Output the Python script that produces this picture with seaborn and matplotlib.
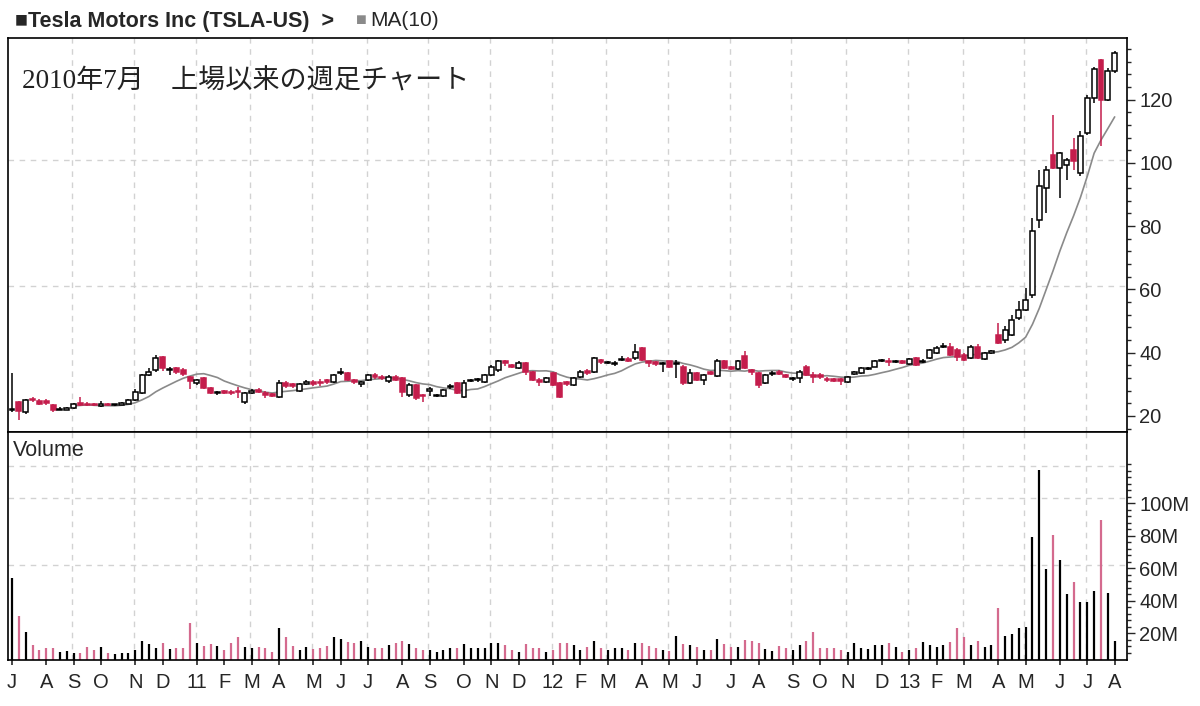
import numpy as np
import pandas as pd
import matplotlib
matplotlib.use("Agg")
import matplotlib.pyplot as plt
import seaborn as sns
from matplotlib.ticker import MultipleLocator, FixedLocator

# weekly TSLA candles, Jul 2010 - Aug 2013
opens = [21.7, 24.5, 21.2, 25.3, 24.8, 24.8, 23.5, 21.9, 22.0, 22.5,
         24.0, 23.9, 23.8, 23.2, 23.8, 23.4, 23.5, 23.8, 25.0, 27.3,
         33.0, 34.5, 38.6, 34.4, 35.0, 34.6, 32.3, 30.3, 32.0, 28.9,
         27.2, 27.8, 27.7, 27.9, 24.4, 27.3, 28.3, 27.2, 26.9, 26.0,
         30.3, 30.0, 27.9, 30.2, 30.8, 30.8, 31.3, 30.7, 33.5, 33.6,
         31.3, 30.1, 31.4, 32.9, 32.4, 31.0, 32.4, 32.0, 26.6, 29.8,
         26.7, 27.9, 26.2, 26.2, 29.0, 30.3, 26.1, 31.1, 31.2, 30.8,
         33.0, 34.5, 37.2, 36.0, 35.1, 36.7, 34.0, 31.2, 30.8, 33.5,
         30.3, 30.6, 29.8, 32.4, 34.3, 34.0, 37.6, 36.6, 36.5, 37.6,
         38.1, 38.2, 41.4, 37.2, 37.0, 36.4, 37.2, 36.4, 35.6, 30.3,
         33.5, 31.4, 33.9, 32.6, 37.2, 35.4, 34.8, 39.0, 34.4, 33.5,
         30.5, 33.2, 34.0, 33.0, 31.6, 31.9, 35.6, 33.0, 33.0, 31.8,
         31.7, 31.6, 30.8, 33.4, 33.7, 34.9, 35.6, 37.3, 37.5, 36.9,
         37.2, 36.4, 38.2, 36.9, 38.2, 40.0, 41.8, 41.9, 40.9, 39.3,
         38.2, 41.9, 37.9, 40.0, 45.6, 44.0, 45.6, 51.0, 53.5, 58.3,
         82.0, 92.1, 102.5, 98.4, 99.3, 104.1, 96.8, 109.5, 120.5, 132.5,
         120.0, 129.1]
highs = [33.6, 24.8, 25.3, 26.0, 25.2, 25.4, 23.8, 22.8, 22.9, 24.2,
         26.0, 24.5, 24.2, 24.6, 24.1, 23.9, 24.3, 25.3, 28.4, 33.3,
         35.0, 39.3, 39.0, 35.6, 35.5, 35.0, 32.5, 31.8, 32.3, 29.2,
         27.9, 28.3, 28.3, 29.0, 27.5, 28.5, 28.8, 27.8, 27.3, 31.5,
         31.0, 30.5, 30.3, 31.4, 31.2, 31.8, 31.8, 33.3, 35.2, 34.0,
         31.8, 31.0, 33.4, 33.6, 32.9, 32.8, 32.8, 32.3, 30.3, 30.2,
         26.9, 29.2, 27.0, 28.4, 30.0, 30.8, 31.3, 31.8, 31.9, 33.4,
         36.0, 37.8, 37.8, 36.4, 37.2, 37.0, 34.3, 32.0, 32.3, 33.9,
         30.6, 31.0, 32.3, 34.4, 34.8, 38.6, 38.0, 37.5, 37.5, 39.0,
         38.5, 42.8, 41.8, 37.5, 37.3, 37.0, 37.5, 37.7, 36.0, 34.8,
         33.9, 33.3, 34.3, 38.0, 37.6, 35.8, 37.8, 40.5, 34.8, 33.8,
         33.3, 34.2, 34.5, 33.4, 32.3, 34.4, 36.0, 34.0, 33.5, 32.2,
         32.0, 31.9, 32.6, 34.1, 35.4, 35.6, 37.6, 38.0, 38.3, 37.8,
         37.6, 38.3, 38.6, 38.0, 41.3, 42.0, 43.0, 43.0, 41.5, 39.8,
         42.3, 42.8, 40.1, 40.8, 49.4, 48.5, 51.9, 56.4, 60.5, 82.6,
         97.8, 99.0, 115.2, 103.5, 101.5, 107.9, 110.1, 121.5, 130.3, 133.0,
         130.0, 135.4]
lows = [21.2, 18.7, 20.6, 24.5, 23.3, 23.3, 21.3, 21.7, 21.8, 22.2,
        23.2, 23.0, 23.0, 22.9, 23.2, 23.2, 23.3, 23.6, 24.8, 27.0,
        32.5, 34.0, 34.3, 32.9, 33.3, 32.5, 28.5, 29.8, 28.5, 26.8,
        26.6, 26.9, 26.5, 25.8, 23.8, 27.0, 27.2, 25.5, 25.9, 25.5,
        28.8, 28.9, 27.6, 29.7, 29.6, 29.6, 30.0, 30.3, 32.8, 31.0,
        30.1, 29.2, 31.0, 31.7, 31.5, 30.4, 31.0, 26.1, 26.0, 25.0,
        24.5, 26.3, 25.9, 25.9, 28.5, 26.9, 25.8, 30.6, 30.8, 30.4,
        32.6, 34.0, 35.9, 35.0, 34.8, 33.0, 31.0, 29.5, 30.5, 29.5,
        25.6, 29.6, 29.4, 32.0, 33.0, 33.7, 36.5, 36.3, 35.9, 37.2,
        37.0, 37.8, 37.3, 35.5, 35.9, 34.0, 35.2, 31.9, 29.8, 30.0,
        31.0, 29.8, 32.8, 32.3, 34.8, 34.4, 34.6, 34.8, 33.0, 28.7,
        30.2, 32.6, 32.8, 32.0, 31.0, 30.3, 32.6, 30.5, 31.7, 30.8,
        30.6, 29.9, 30.5, 33.0, 33.4, 34.5, 35.3, 36.9, 35.8, 36.7,
        36.3, 36.1, 35.8, 36.6, 37.9, 39.7, 41.4, 39.0, 37.2, 37.3,
        37.9, 37.9, 37.6, 39.6, 42.6, 43.1, 45.3, 50.4, 53.2, 57.3,
        79.4, 84.2, 98.0, 88.9, 94.6, 97.8, 95.9, 108.8, 119.0, 105.4,
        119.6, 128.4]
closes = [22.0, 21.4, 25.0, 24.9, 23.6, 24.2, 22.0, 22.2, 22.5, 23.8,
          23.5, 23.4, 23.3, 23.9, 23.5, 23.6, 24.0, 25.0, 27.6, 33.0,
          34.0, 38.3, 35.0, 34.7, 34.0, 33.3, 31.0, 31.2, 28.9, 27.3,
          27.5, 27.3, 27.2, 27.4, 27.3, 27.8, 27.7, 26.5, 26.4, 30.4,
          29.6, 29.5, 30.0, 30.6, 30.2, 30.5, 30.6, 33.0, 34.0, 31.4,
          30.6, 30.6, 33.0, 32.2, 31.9, 32.4, 31.4, 27.7, 29.8, 25.6,
          26.4, 28.4, 26.6, 28.2, 29.4, 27.2, 30.4, 31.5, 31.5, 33.0,
          35.6, 37.2, 36.6, 35.4, 36.7, 34.0, 31.4, 30.6, 32.0, 29.8,
          26.1, 30.0, 31.9, 34.0, 33.7, 38.2, 36.9, 37.0, 36.8, 38.0,
          37.5, 40.3, 37.7, 36.6, 36.4, 36.7, 35.6, 36.7, 30.3, 33.5,
          31.4, 33.0, 33.3, 37.5, 35.1, 34.8, 37.5, 35.1, 33.8, 29.8,
          33.0, 33.6, 33.4, 32.4, 31.9, 34.0, 33.0, 32.4, 32.2, 31.2,
          31.1, 31.0, 32.2, 33.8, 35.1, 35.2, 37.2, 37.6, 36.9, 37.2,
          36.7, 37.9, 36.1, 37.3, 40.9, 41.6, 42.2, 39.3, 38.7, 37.7,
          41.9, 38.2, 39.8, 40.4, 43.1, 47.2, 50.4, 53.5, 56.7, 78.5,
          92.7, 97.8, 98.4, 103.1, 100.9, 100.6, 108.5, 120.5, 129.7, 120.0,
          129.0, 134.8]
# weekly volume, millions of shares
volumes = [54.0, 30.5, 20.6, 12.6, 9.5, 10.6, 10.6, 8.5, 9.1, 7.5,
           7.5, 11.6, 9.5, 11.6, 7.5, 7.1, 7.5, 7.9, 9.5, 15.3,
           13.2, 10.6, 14.1, 10.0, 10.6, 10.6, 26.3, 14.1, 12.0, 13.2,
           12.0, 9.5, 14.1, 17.4, 11.6, 10.6, 11.6, 10.6, 8.5, 22.9,
           17.8, 12.0, 9.5, 11.6, 10.0, 10.6, 12.0, 17.4, 16.1, 14.7,
           14.1, 15.3, 11.2, 10.6, 10.6, 12.6, 13.6, 15.3, 13.2, 10.6,
           9.5, 9.5, 8.5, 9.5, 10.6, 10.6, 13.2, 10.6, 10.6, 10.6,
           14.1, 13.6, 12.6, 9.5, 8.5, 13.2, 10.6, 10.6, 8.5, 9.5,
           14.1, 14.1, 12.6, 9.5, 11.6, 15.3, 10.6, 9.5, 10.6, 10.6,
           9.5, 14.1, 14.1, 12.0, 10.6, 9.5, 9.1, 18.2, 13.2, 12.6,
           11.2, 9.5, 9.5, 16.1, 13.2, 11.2, 11.6, 15.7, 15.3, 14.1,
           10.0, 9.1, 12.0, 10.6, 9.5, 12.6, 15.3, 20.6, 10.6, 10.6,
           10.6, 9.5, 8.5, 13.6, 10.6, 10.0, 12.6, 12.5, 13.9, 11.6,
           8.5, 9.5, 10.6, 14.7, 12.6, 11.6, 12.6, 14.7, 22.9, 17.7,
           12.6, 15.1, 11.6, 12.6, 35.2, 18.2, 19.4, 22.9, 23.9, 79.3,
           120.3, 59.2, 80.3, 64.9, 44.0, 51.6, 39.3, 39.3, 46.0, 89.5,
           44.8, 15.3]

month_labels = ["J", "A", "S", "O", "N", "D", "11", "F", "M", "A", "M", "J", "J",
                "A", "S", "O", "N", "D", "12", "F", "M", "A", "M", "J", "J",
                "A", "S", "O", "N", "D", "13", "F", "M", "A", "M", "J", "J", "A"]
month_weeks = [0, 5, 9, 13, 18, 22, 27, 31, 35, 39, 44, 48, 52,
               57, 61, 66, 70, 74, 79, 83, 87, 92, 96, 100, 105,
               109, 114, 118, 122, 127, 131, 135, 139, 144, 148, 153, 157, 161]

df = pd.DataFrame({"open": opens, "high": highs, "low": lows,
                   "close": closes, "volume": volumes})
df["week"] = np.arange(len(df))
df["up"] = df["close"] >= df["open"]
df["ma10"] = df["close"].rolling(10).mean()

RED = "#c41d4c"
PINK = "#d46a8e"
GRID = "#d2d2d2"
DASH = (0, (4, 4))

sns.set_style("white")
plt.rcParams["font.family"] = ["Liberation Sans", "DejaVu Sans"]

fig = plt.figure(figsize=(12, 7.06), dpi=100)
ax = fig.add_axes([8 / 1200, 1 - 432 / 706, 1119 / 1200, 394 / 706])
axv = fig.add_axes([8 / 1200, 1 - 660 / 706, 1119 / 1200, 228 / 706], sharex=ax)

# grid: dashed, every other month
grid_weeks = month_weeks[2::2]
for a in (ax, axv):
    for gw in grid_weeks:
        a.axvline(gw - 0.2, color=GRID, ls=DASH, lw=1, zorder=0)
for lvl in (61, 101):
    ax.axhline(lvl, color=GRID, ls=DASH, lw=1, zorder=0)
for lvl in (62, 103, 123):
    axv.axhline(lvl, color=GRID, ls=DASH, lw=1, zorder=0)

# moving average
sns.lineplot(data=df, x="week", y="ma10", ax=ax, color="#8a8a8a", lw=1.2, zorder=1)

# candles
edge = np.where(df["up"], "black", RED)
ax.vlines(df["week"], df["low"], df["high"], colors=edge, lw=1.1, zorder=2)
body_lo = np.minimum(df["open"], df["close"])
body_h = np.maximum((df["close"] - df["open"]).abs(), 0.35)
ax.bar(df["week"], body_h, bottom=body_lo, width=0.72,
       color=np.where(df["up"], "white", RED), edgecolor=edge, lw=1.1, zorder=3)

# volume
axv.vlines(df["week"], 0, df["volume"],
           colors=np.where(df["up"], "black", PINK), lw=1.6, zorder=2)

ax.set_xlim(-0.58, 162.8)
ax.set_ylim(14.9, 139.5)
axv.set_ylim(3.4, 143.7)

for a in (ax, axv):
    a.set_xlabel("")
    a.set_ylabel("")
    for s in a.spines.values():
        s.set_color("black")
        s.set_linewidth(1.2)
        s.set_visible(True)
    a.yaxis.tick_right()
    a.tick_params(axis="y", which="major", direction="out", length=6, width=1,
                  labelsize=14.5, pad=3, right=True, left=False)
    a.tick_params(axis="y", which="minor", direction="out", length=3, width=1,
                  right=True, left=False)

ax.yaxis.set_major_locator(MultipleLocator(20))
ax.yaxis.set_minor_locator(MultipleLocator(4))
ax.set_yticks([20, 40, 60, 80, 100, 120])
ax.tick_params(axis="x", which="both", bottom=False, labelbottom=False)

axv.yaxis.set_major_locator(FixedLocator([20, 40, 60, 80, 100]))
axv.set_yticklabels(["20M", "40M", "60M", "80M", "100M"])
axv.yaxis.set_minor_locator(FixedLocator(np.arange(8, 125, 4)))
axv.set_xticks(month_weeks)
axv.set_xticklabels(month_labels)
axv.tick_params(axis="x", direction="inout", length=7, width=1.2,
                labelsize=14.5, pad=6, bottom=True)

# texts
fig.text(15 / 1200, 1 - 21 / 706, "■Tesla Motors Inc (TSLA-US)  >",
         fontsize=15.5, fontweight="bold", va="center", ha="left")
fig.text(356 / 1200, 1 - 21 / 706, "■", color="#8a8a8a",
         fontsize=13, va="center", ha="left")
fig.text(370 / 1200, 1 - 21 / 706, "MA(10)", fontsize=15, va="center", ha="left")
ax.text(0.0125, 0.888, "2010年7月　上場以来の週足チャート", transform=ax.transAxes,
        fontsize=19.5, va="center", ha="left", color="#222222",
        family=["Liberation Serif", "Noto Sans CJK JP", "DejaVu Sans"])
axv.text(0.004, 0.92, "Volume", transform=axv.transAxes,
         fontsize=15.5, va="center", ha="left")

fig.savefig("out.png", dpi=100)
